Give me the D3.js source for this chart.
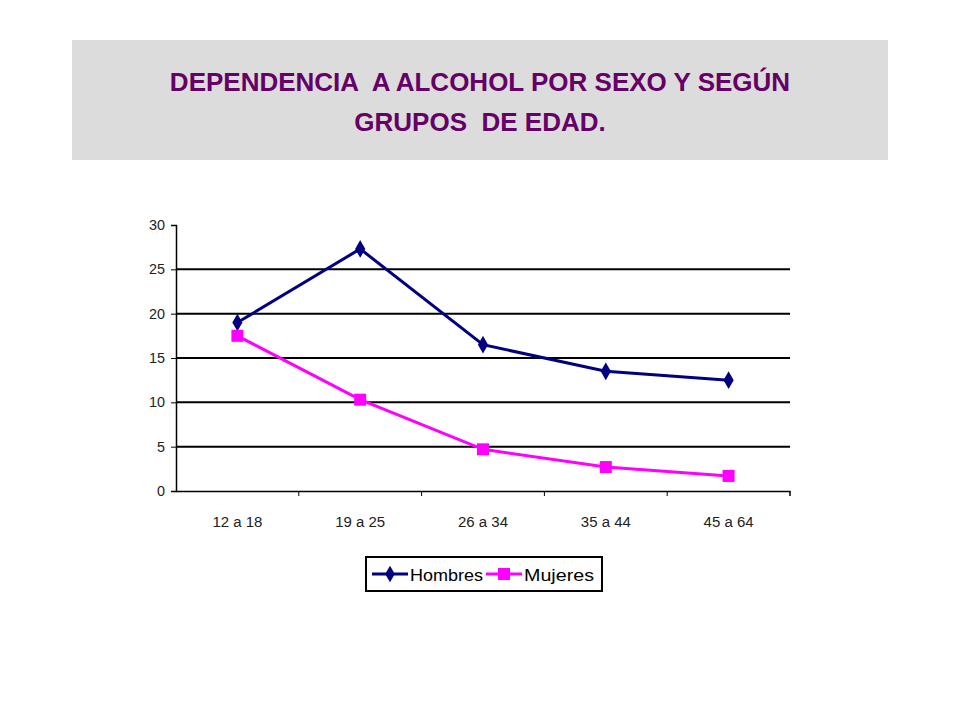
<!DOCTYPE html>
<html>
<head>
<meta charset="utf-8">
<script src="https://cdn.jsdelivr.net/npm/d3@7"></script>
<style>
  body { margin: 0; background: #fff; }
  text { font-family: "Liberation Sans", Arial, sans-serif; }
</style>
</head>
<body>
<svg id="chart" width="960" height="720"></svg>
<script>
var categories = ['12 a 18', '19 a 25', '26 a 34', '35 a 44', '45 a 64'];
var hombres = [19, 27.3, 16.5, 13.5, 12.5];
var mujeres = [17.5, 10.3, 4.7, 2.7, 1.7];
var yTicks = [0, 5, 10, 15, 20, 25, 30];

var svg = d3.select('#chart');

// title box
svg.append('rect').attr('x', 72).attr('y', 40).attr('width', 816).attr('height', 120).attr('fill', '#dcdcdc');
var title = svg.append('text').attr('text-anchor', 'middle').attr('fill', '#660066')
  .attr('font-weight', 'bold').attr('font-size', 26).style('white-space', 'pre');
title.append('tspan').attr('x', 480).attr('y', 91).text('DEPENDENCIA  A ALCOHOL POR SEXO Y SEGÚN');
title.append('tspan').attr('x', 480).attr('y', 131).text('GRUPOS  DE EDAD.');

var pLeft = 176, pRight = 790, pTop = 225, pBottom = 491;
var x = d3.scaleBand().domain(categories).range([pLeft, pRight]);
var y = d3.scaleLinear().domain([0, 30]).range([pBottom, pTop]);

// gridlines
svg.append('g').selectAll('line').data(yTicks.filter(function (t) { return t > 0 && t < 30; }))
  .enter().append('line')
  .attr('x1', pLeft).attr('x2', pRight)
  .attr('y1', function (d) { return y(d); }).attr('y2', function (d) { return y(d); })
  .attr('stroke', '#000').attr('stroke-width', 2);

var yAxis = svg.append('g').attr('transform', 'translate(' + pLeft + ',0)')
  .call(d3.axisLeft(y).tickValues(yTicks).tickSize(5).tickPadding(6));
var xAxis = svg.append('g').attr('transform', 'translate(0,' + pBottom + ')')
  .call(d3.axisBottom(x).tickSize(0).tickPadding(26));
xAxis.selectAll('.tick').append('line')
  .attr('x1', x.bandwidth() / 2).attr('x2', x.bandwidth() / 2).attr('y1', 0).attr('y2', 5)
  .attr('stroke', '#000');
svg.append('line').attr('x1', pRight).attr('x2', pRight).attr('y1', pBottom).attr('y2', pBottom + 5).attr('stroke', '#000');
[yAxis, xAxis].forEach(function (a) {
  a.select('.domain').attr('stroke-width', 1.5);
  a.selectAll('text').attr('font-size', 14).attr('fill', '#222');
});
yAxis.selectAll('.tick text').attr('textLength', function (d) { return d < 10 ? 8 : 16; }).attr('lengthAdjust', 'spacingAndGlyphs');
xAxis.selectAll('.tick text').attr('textLength', 50).attr('lengthAdjust', 'spacingAndGlyphs');

var cx = function (d, i) { return x(categories[i]) + x.bandwidth() / 2; };
var line = d3.line().x(cx).y(function (d) { return y(d); });

svg.append('path').datum(hombres).attr('d', line).attr('fill', 'none')
  .attr('stroke', '#000080').attr('stroke-width', 3);
svg.append('path').datum(mujeres).attr('d', line).attr('fill', 'none')
  .attr('stroke', '#ff00ff').attr('stroke-width', 3);

svg.append('g').selectAll('path').data(hombres).enter().append('path')
  .attr('d', d3.symbol(d3.symbolDiamond, 90))
  .attr('transform', function (d, i) { return 'translate(' + cx(d, i) + ',' + y(d) + ')'; })
  .attr('fill', '#000080');
svg.append('g').selectAll('rect').data(mujeres).enter().append('rect')
  .attr('x', function (d, i) { return cx(d, i) - 6; }).attr('y', function (d) { return y(d) - 6; })
  .attr('width', 12).attr('height', 12).attr('fill', '#ff00ff');

// legend
var lg = svg.append('g');
lg.append('rect').attr('x', 366).attr('y', 557).attr('width', 236).attr('height', 34)
  .attr('fill', '#fff').attr('stroke', '#000').attr('stroke-width', 2);
lg.append('line').attr('x1', 372).attr('x2', 408).attr('y1', 574).attr('y2', 574).attr('stroke', '#000080').attr('stroke-width', 3);
lg.append('path').attr('d', d3.symbol(d3.symbolDiamond, 80)).attr('transform', 'translate(390,574)').attr('fill', '#000080');
lg.append('text').attr('x', 410).attr('y', 581).attr('font-size', 17).attr('textLength', 73).attr('lengthAdjust', 'spacingAndGlyphs').text('Hombres');
lg.append('line').attr('x1', 486).attr('x2', 522).attr('y1', 574).attr('y2', 574).attr('stroke', '#ff00ff').attr('stroke-width', 3);
lg.append('rect').attr('x', 498).attr('y', 568).attr('width', 12).attr('height', 12).attr('fill', '#ff00ff');
lg.append('text').attr('x', 524).attr('y', 581).attr('font-size', 17).attr('textLength', 70).attr('lengthAdjust', 'spacingAndGlyphs').text('Mujeres');
</script>
</body>
</html>
